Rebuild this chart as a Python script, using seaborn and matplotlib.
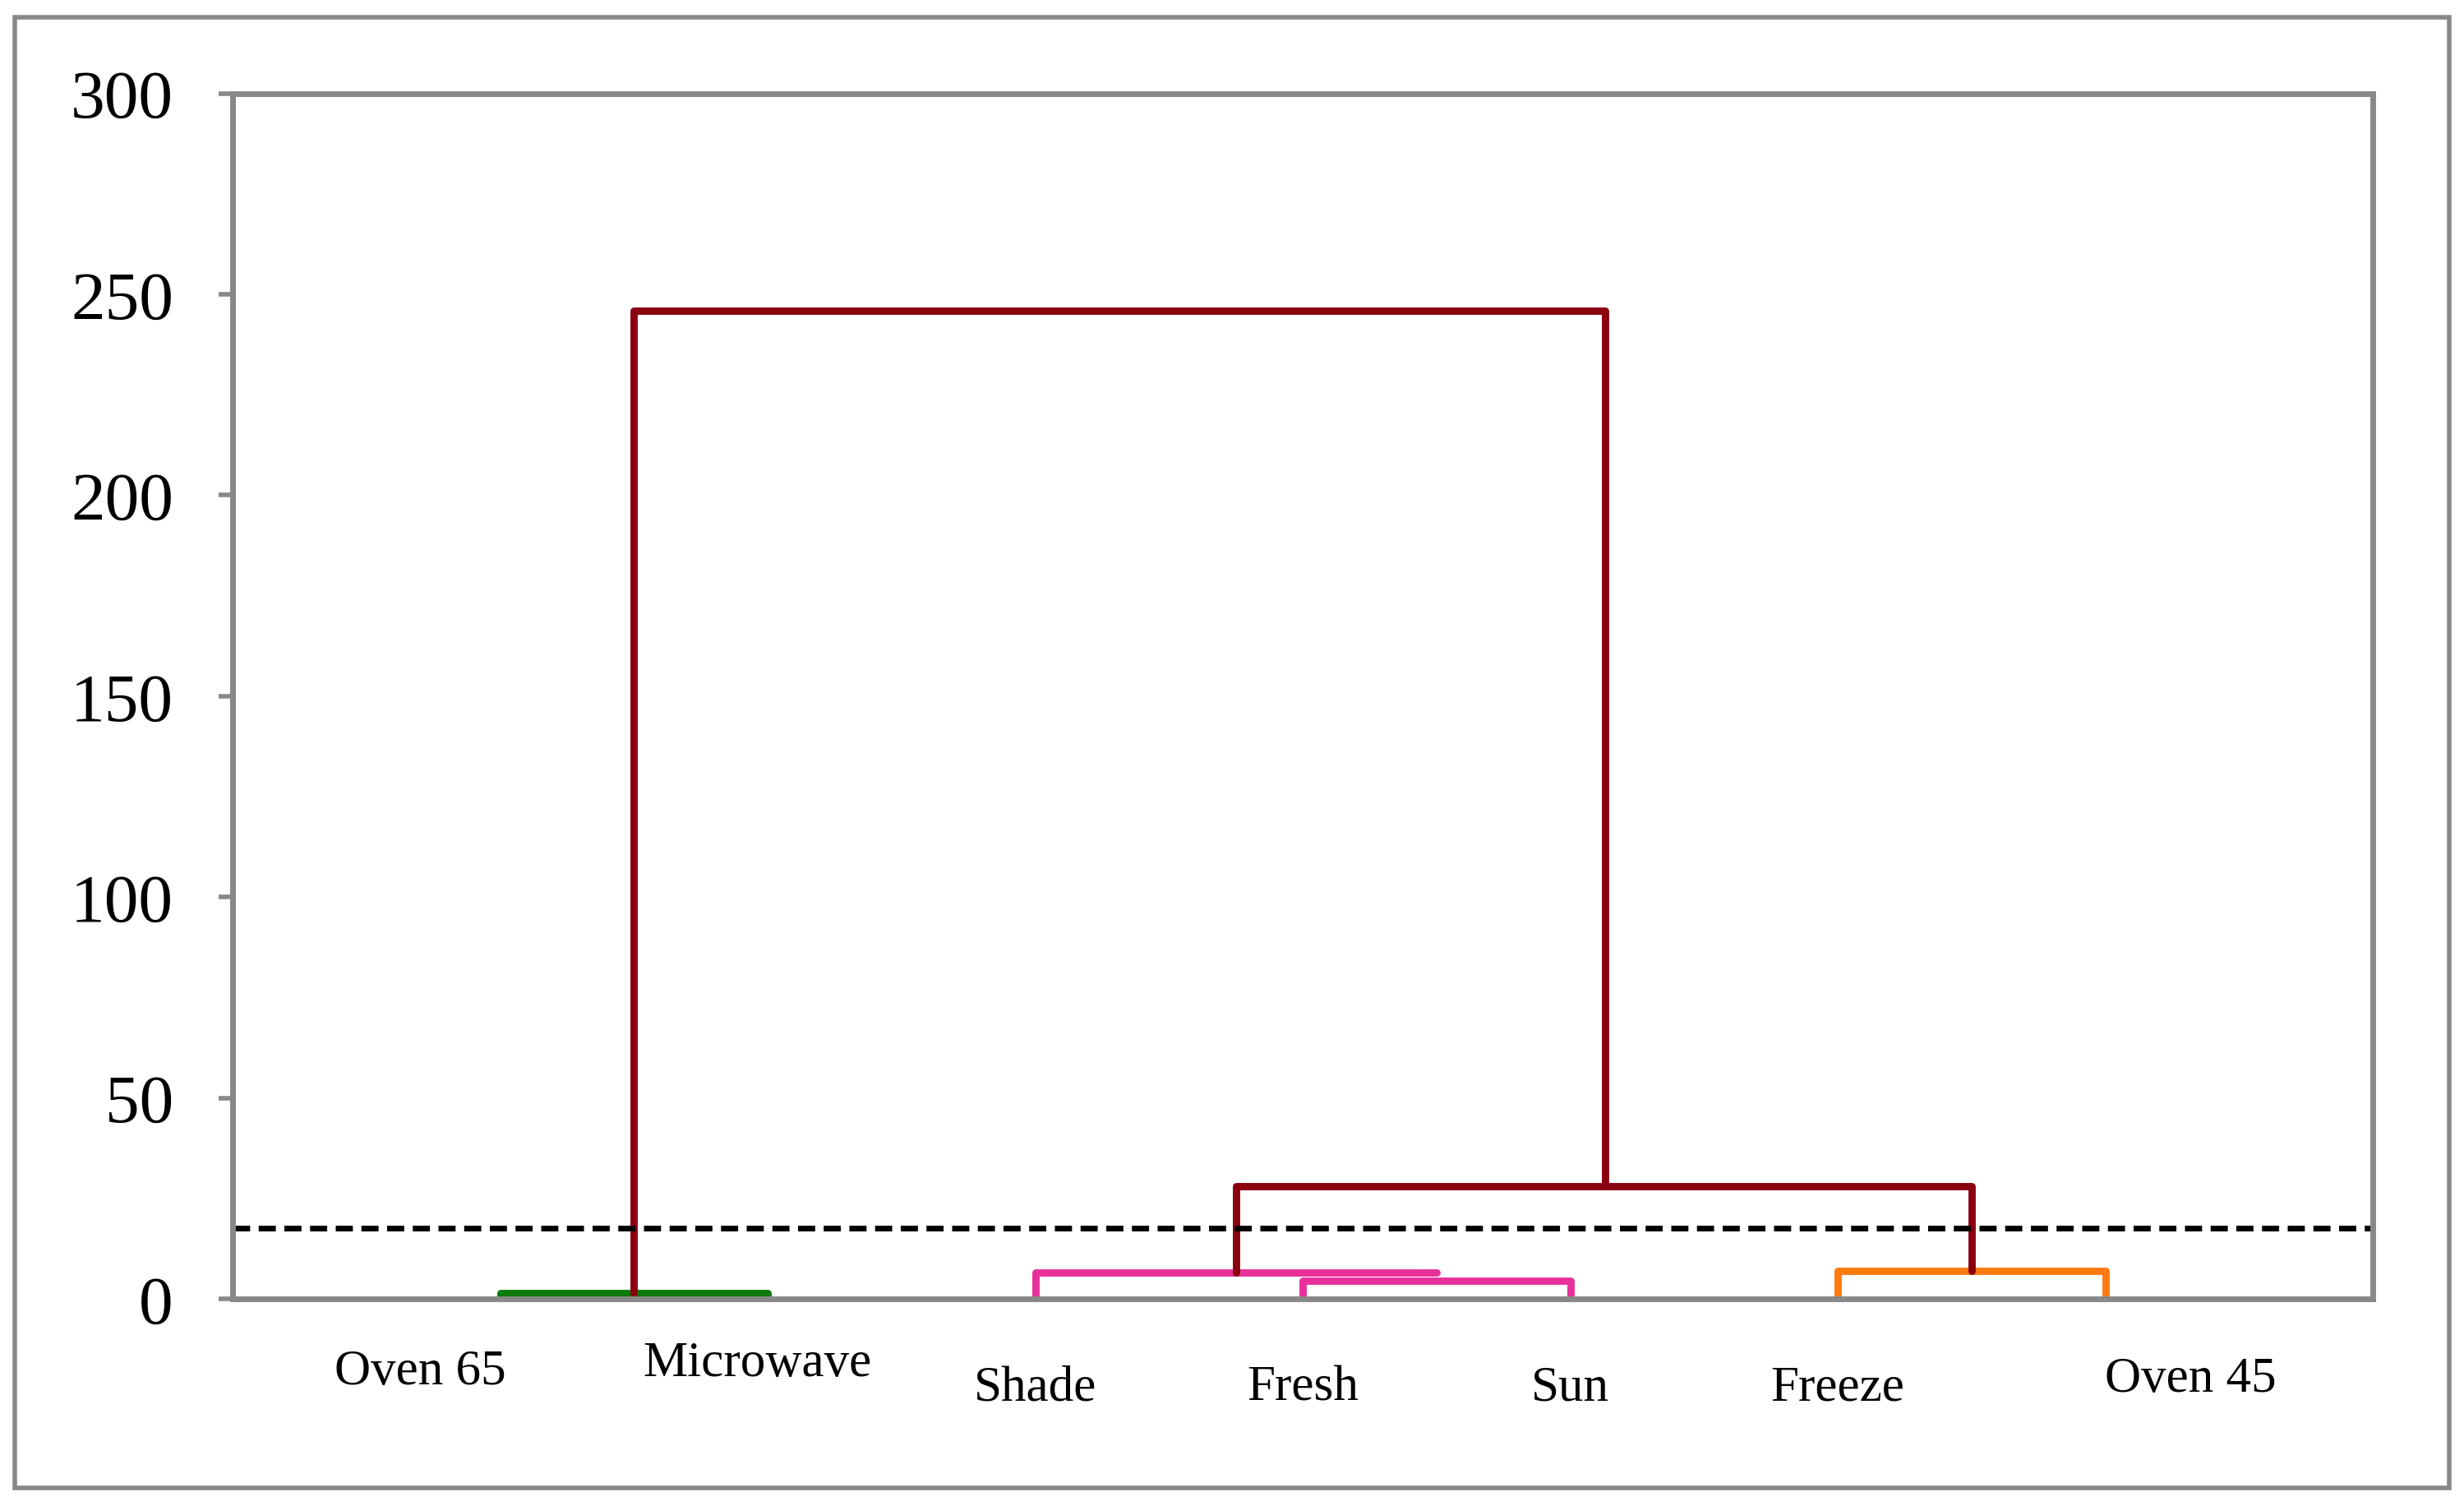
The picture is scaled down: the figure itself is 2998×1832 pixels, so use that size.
import matplotlib
matplotlib.use("Agg")
import matplotlib.pyplot as plt
import seaborn as sns
import pandas as pd
from matplotlib.patches import Rectangle

leaves = ["Oven 65", "Microwave", "Shade", "Fresh", "Sun", "Freeze", "Oven 45"]
label_x = [0.7, 1.96, 3.0, 4.0, 5.0, 6.0, 7.32]
label_y = [-18, -16, -22, -22, -22, -22, -20]

# link: (name, xs, heights, colour)
link_names = ["green", "pink1", "pink2", "orange", "red_low", "red_top"]
link_x = [[1, 1, 2, 2], [3, 3, 4.5], [4, 4, 5, 5], [6, 6, 7, 7],
          [3.75, 3.75, 6.5, 6.5], [1.5, 1.5, 5.13, 5.13]]
link_h = [[0, 1.5, 1.5, 0], [0, 6.5, 6.5], [0, 4.5, 4.5, 0], [0, 7, 7, 0],
          [6.5, 28, 28, 7], [1.5, 246, 246, 28]]
link_col = ["#0a7a0a", "#e8309a", "#e8309a", "#ff7a0e", "#8b0010", "#8b0010"]
cut_height = 17.5

sns.set_style("white")
plt.rcParams["font.family"] = ["Liberation Serif", "DejaVu Serif"]

fig = plt.figure(figsize=(14.99, 9.165), dpi=200)
ax = fig.add_axes([0.0944, 0.1375, 0.8686, 0.8])

for name, xs, hs, c in zip(link_names, link_x, link_h, link_col):
    df = pd.DataFrame({"x": xs, "h": hs, "o": range(len(xs))})
    sns.lineplot(data=df, x="x", y="h", sort=False, estimator=None,
                 color=c, linewidth=3.2, ax=ax)
ax.axhline(cut_height, color="black", linestyle=(0, (3, 1.5)), linewidth=2.5)

for lab, x, y in zip(leaves, label_x, label_y):
    ax.text(x, y, lab, ha="center", va="center", fontsize=22, color="black")

ax.set_xlim(0, 8)
ax.set_ylim(0, 300)
ax.set_yticks([0, 50, 100, 150, 200, 250, 300])
ax.set_xticks([])
ax.set_xlabel("")
ax.set_ylabel("")
ax.tick_params(axis="y", labelsize=30, length=6, width=2, color="#888888",
               labelcolor="black", left=True, direction="out", pad=20)
for s in ax.spines.values():
    s.set_color("#888888")
    s.set_linewidth(2.5)

fig.patches.append(Rectangle((0.006, 0.012), 0.988, 0.976, transform=fig.transFigure,
                             fill=False, edgecolor="#888888", linewidth=2))
fig.savefig("out.png", dpi=200)
